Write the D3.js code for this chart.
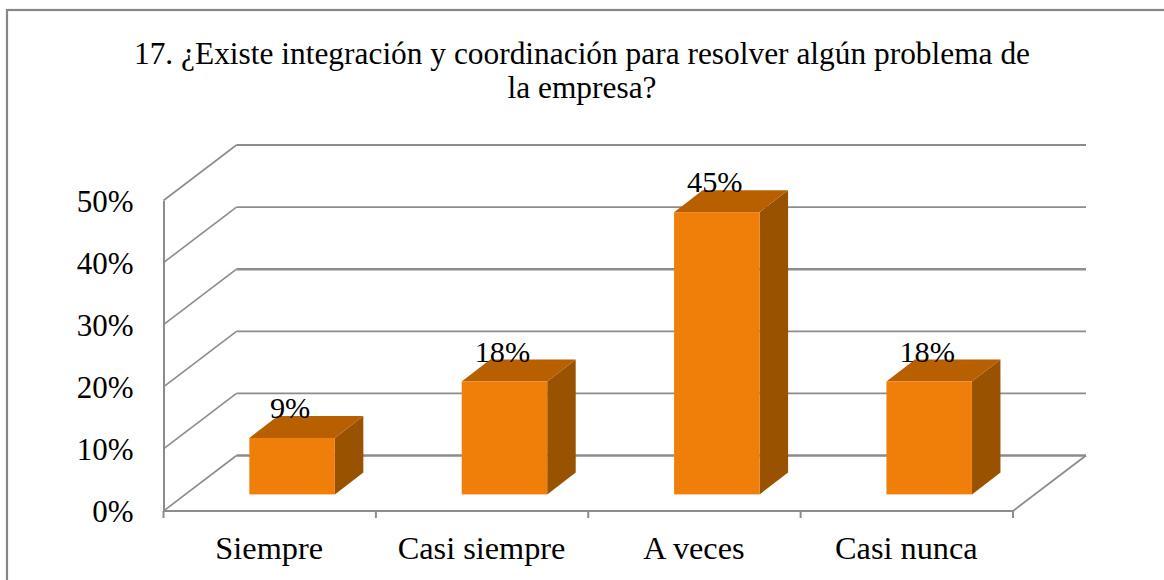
<!DOCTYPE html>
<html><head><meta charset="utf-8">
<script src="https://cdn.jsdelivr.net/npm/d3@7"></script>
<style>html,body{margin:0;padding:0;background:#fff}svg{display:block}text{font-family:"Liberation Serif","Times New Roman",serif;fill:#000}</style>
</head><body><div id="c"></div>
<script>
const categories = ["Siempre","Casi siempre","A veces","Casi nunca"];
const values = [0.0909,0.1818,0.4545,0.1818];
const tickValues = [0,0.1,0.2,0.3,0.4,0.5];
const titleLines = ["17. ¿Existe integración y coordinación para resolver algún problema de","la empresa?"];

const W=1164,H=580;
const svg=d3.select("#c").append("svg").attr("width",W).attr("height",H);
svg.append("rect").attr("x",7).attr("y",10).attr("width",W+20).attr("height",H).attr("fill","#fff").attr("stroke","#868686").attr("stroke-width",2.2);

svg.selectAll("text.t").data(titleLines).join("text").attr("class","t").attr("x",582)
  .attr("y",(d,i)=>63.5+i*34.5).attr("text-anchor","middle").attr("font-size",31.4).text(d=>d);

const x=d3.scaleBand().domain(categories).range([163.5,1013]).paddingInner(0).paddingOuter(0);
const y=d3.scaleLinear().domain([0,0.5]).range([511,200.5]);
const depthX=73, depthY=-55.5;
const grid="#8c8c8c";
const g=svg.append("g");

const line=d3.line();
tickValues.forEach(t=>{
  const back=[[163.5+depthX,y(t)+depthY],[1013+depthX,y(t)+depthY]];
  g.append("path").attr("d",line([[163.5,y(t)],back[0]])).attr("fill","none").attr("stroke",grid).attr("stroke-width",1.6);
  g.append("path").attr("d",line(back)).attr("fill","none").attr("stroke",grid)
   .attr("stroke-width",(t===0||t===0.3)?2.6:1.8);
});
g.append("path").attr("d",line([[163.5,y(0)],[1013,y(0)],[1013+depthX,y(0)+depthY]])).attr("fill","none").attr("stroke",grid).attr("stroke-width",1.8);
const yAxis=d3.axisLeft(y).tickValues(tickValues).tickFormat(d3.format(".0%")).tickSize(0).tickPadding(0);
const ya=svg.append("g").attr("transform","translate(163.5,1)").call(yAxis);
ya.select(".domain").attr("stroke",grid).attr("stroke-width",2).attr("transform","translate(0,-1)");
ya.selectAll("text").attr("font-size",31).attr("font-family",'"Liberation Serif"').attr("x",-30).attr("fill","#000");
const edges=[...categories.map(c=>x(c)),1013];
g.selectAll("line.xt").data(edges).join("line").attr("class","xt").attr("x1",d=>d).attr("x2",d=>d).attr("y1",y(0)).attr("y2",y(0)+7).attr("stroke",grid).attr("stroke-width",2);
svg.selectAll("text.c").data(categories).join("text").attr("class","c").attr("x",d=>x(d)+x.bandwidth()/2-0.5)
  .attr("y",558.5).attr("text-anchor","middle").attr("font-size",32.3).text(d=>d);

const barW=85.5, offX=22.4+x.bandwidth()/2-85.5/2, baseShift=16.6, dX=28.5, dY=-22;
const bars=svg.selectAll("g.b").data(categories.map((c,i)=>({c,v:values[i]}))).join("g").attr("class","b");
const xL=d=>x(d.c)+offX, yT=d=>y(d.v)-baseShift, yB=()=>y(0)-baseShift;
bars.append("path").attr("fill","#995200").attr("d",d=>line([[xL(d)+barW,yT(d)],[xL(d)+barW+dX,yT(d)+dY],[xL(d)+barW+dX,yB()+dY],[xL(d)+barW,yB()]])+"Z");
bars.append("path").attr("fill","#b85f00").attr("d",d=>line([[xL(d),yT(d)],[xL(d)+dX,yT(d)+dY],[xL(d)+barW+dX,yT(d)+dY],[xL(d)+barW,yT(d)]])+"Z");
bars.append("rect").attr("x",xL).attr("y",yT).attr("width",barW).attr("height",d=>yB()-yT(d)).attr("fill","#f07f09");
svg.selectAll("text.l").data(categories.map((c,i)=>({c,v:values[i]}))).join("text").attr("class","l")
  .attr("x",d=>xL(d)+barW/2-2).attr("y",d=>yT(d)-20).attr("text-anchor","middle").attr("font-size",30.3).text(d=>d3.format(".0%")(d.v));
</script></body></html>
